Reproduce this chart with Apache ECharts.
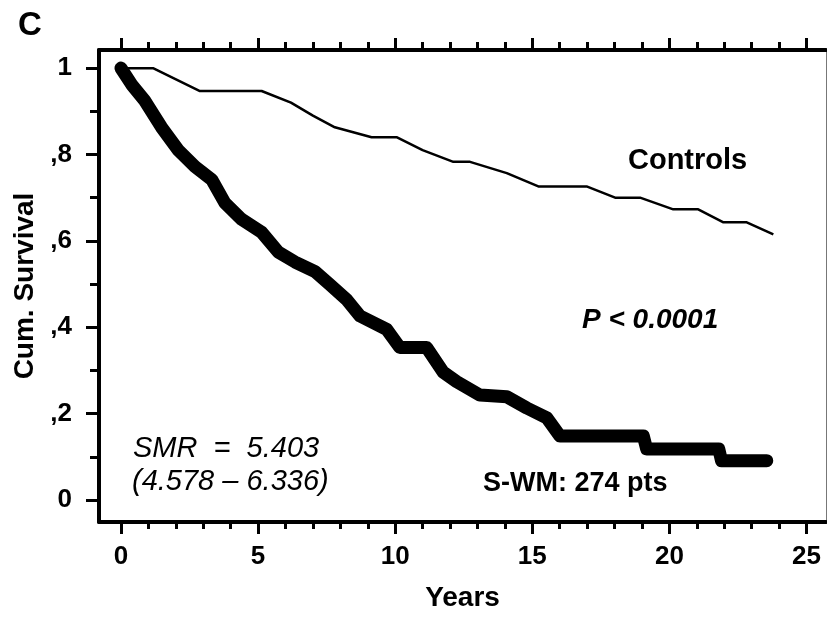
<!DOCTYPE html>
<html>
<head>
<meta charset="utf-8">
<script src="https://cdn.jsdelivr.net/npm/echarts@6/dist/echarts.min.js"></script>
<style>
	html, body { margin: 0; padding: 0; background: #fff; }
	#echart { width: 827px; height: 617px; }
</style>
</head>
<body>
<div id="echart"></div>
<script>
	var controlsYears = [0, 1.17, 2.88, 5.13, 6.2, 7.0, 7.8, 9.14, 10.05, 11.0, 12.12, 12.73, 14.07, 15.22, 16.98, 18.02, 18.93, 20.14, 21.05, 21.97, 22.82, 23.79];
	var controlsSurv = [1, 1, 0.947, 0.947, 0.92, 0.89, 0.863, 0.84, 0.84, 0.81, 0.783, 0.783, 0.757, 0.726, 0.726, 0.70, 0.70, 0.673, 0.673, 0.643, 0.643, 0.615];

	var swmYears = [0, 0.39, 0.875, 1.48, 2.09, 2.70, 3.31, 3.79, 4.40, 5.13, 5.74, 6.35, 7.08, 7.6, 8.23, 8.72, 9.69, 10.17, 11.15, 11.75, 12.24, 13.09, 14.07, 14.80, 15.53, 16.01, 17.10, 19.05, 19.17, 21.8, 21.9, 23.55];
	var swmSurv = [1, 0.962, 0.924, 0.863, 0.81, 0.772, 0.742, 0.688, 0.65, 0.62, 0.574, 0.551, 0.529, 0.5, 0.464, 0.426, 0.395, 0.353, 0.353, 0.296, 0.274, 0.243, 0.239, 0.213, 0.19, 0.148, 0.148, 0.148, 0.118, 0.118, 0.091, 0.091];

	var xMajorTicks = [0, 5, 10, 15, 20, 25];
	var xMinorTicks = [0, 1, 2, 3, 4, 5, 6, 7, 8, 9, 10, 11, 12, 13, 14, 15, 16, 17, 18, 19, 20, 21, 22, 23, 24, 25];
	var yMajorTicks = [0, 0.2, 0.4, 0.6, 0.8, 1];
	var yTickLabels = ['0', ',2', ',4', ',6', ',8', '1'];
	var yMinorTicks = [0.1, 0.3, 0.5, 0.7, 0.9];

	var font = '"Liberation Sans", Arial, sans-serif';

	function pairs(xs, ys) {
		return xs.map(function (x, i) { return [x, ys[i]]; });
	}

	function xAxis(pos, ticks, len, withLabels) {
		var ax = {
			type: 'value', position: pos, min: -0.8, max: 25.71,
			splitLine: { show: false },
			axisLine: { show: withLabels !== null, onZero: false, lineStyle: { color: '#000', width: 4 } },
			axisTick: { customValues: ticks, length: len, lineStyle: { color: '#000', width: 3 } },
			axisLabel: { show: false }
		};
		if (withLabels) {
			ax.axisLabel = {
				show: true, customValues: xMajorTicks, margin: 22,
				fontSize: 26, fontWeight: 'bold', color: '#000', fontFamily: font
			};
			ax.name = 'Years';
			ax.nameLocation = 'middle';
			ax.nameGap = 62;
			ax.nameTextStyle = { fontSize: 28, fontWeight: 'bold', color: '#000', fontFamily: font };
		}
		return ax;
	}

	function yAxis(pos, ticks, len, withLabels) {
		var ax = {
			type: 'value', position: pos, min: -0.051, max: 1.042,
			splitLine: { show: false },
			axisLine: { show: withLabels !== null, onZero: false, lineStyle: { color: '#000', width: 4 } },
			axisTick: { show: ticks.length > 0, customValues: ticks, length: len, lineStyle: { color: '#000', width: 3 } },
			axisLabel: { show: false }
		};
		if (withLabels) {
			ax.axisLabel = {
				show: true, customValues: yMajorTicks, margin: 27,
				fontSize: 26, fontWeight: 'bold', color: '#000', fontFamily: font,
				formatter: function (v) {
					var i = yMajorTicks.findIndex(function (t) { return Math.abs(t - v) < 1e-6; });
					return i >= 0 ? yTickLabels[i] : '';
				}
			};
			ax.name = 'Cum. Survival';
			ax.nameLocation = 'middle';
			ax.nameGap = 57;
			ax.nameTextStyle = { fontSize: 28, fontWeight: 'bold', color: '#000', fontFamily: font };
		}
		return ax;
	}

	var rightAxis = yAxis('right', [], 0, false);
	rightAxis.axisLine.lineStyle = { color: '#777', width: 1 };

	var myChart = echarts.init(document.getElementById('echart'));
	myChart.setOption({
		animation: false,
		backgroundColor: '#fff',
		grid: { left: 99, top: 50, width: 727, height: 479 },
		xAxis: [
			xAxis('bottom', xMajorTicks, 12, true),
			xAxis('bottom', xMinorTicks, 7, null),
			xAxis('top', xMajorTicks, 12, false),
			xAxis('top', xMinorTicks, 8, null)
		],
		yAxis: [
			yAxis('left', yMajorTicks, 13, true),
			yAxis('left', yMinorTicks, 9, null),
			rightAxis
		],
		series: [{
			name: 'Controls',
			type: 'line',
			data: pairs(controlsYears, controlsSurv),
			showSymbol: false,
			lineStyle: { color: '#000', width: 2.5, join: 'round' }
		}, {
			name: 'S-WM',
			type: 'line',
			data: pairs(swmYears, swmSurv),
			showSymbol: false,
			lineStyle: { color: '#000', width: 13, cap: 'round', join: 'round' }
		}],
		graphic: [
			{ type: 'text', left: 18, top: 9, style: { text: 'C', font: 'bold 33px ' + font, fill: '#000' } },
			{ type: 'text', left: 628, top: 146, style: { text: 'Controls', font: 'bold 29px ' + font, fill: '#000' } },
			{ type: 'text', left: 582, top: 306, style: { text: 'P < 0.0001', font: 'italic bold 28px ' + font, fill: '#000' } },
			{ type: 'text', left: 133, top: 434, style: { text: 'SMR  =  5.403', font: 'italic 29px ' + font, fill: '#000' } },
			{ type: 'text', left: 132, top: 467, style: { text: '(4.578 \u2013 6.336)', font: 'italic 29px ' + font, fill: '#000' } },
			{ type: 'text', left: 483, top: 470, style: { text: 'S-WM: 274 pts', font: 'bold 27px ' + font, fill: '#000' } }
		]
	});
</script>
</body>
</html>
